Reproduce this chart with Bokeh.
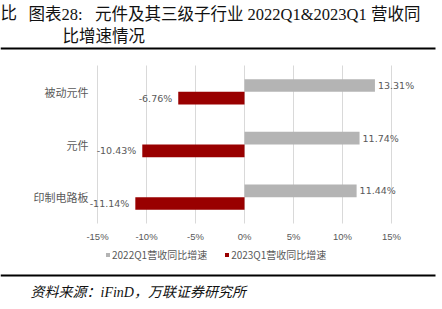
from bokeh.plotting import figure
from bokeh.models import (ColumnDataSource, Range1d, FixedTicker,
                          PrintfTickFormatter, Legend, LegendItem)
from bokeh.transform import dodge
from bokeh.core.properties import value
from bokeh.embed import file_html
from bokeh.resources import INLINE

# ---- data ----
categories = ["印制电路板", "元件", "被动元件"]          # bottom -> top
growth_2022q1 = [11.44, 11.74, 13.31]
growth_2023q1 = [-11.14, -10.43, -6.76]
x_ticks = [-15, -10, -5, 0, 5, 10, 15]
series_names = ["2022Q1营收同比增速", "2023Q1营收同比增速"]
title_cut = "比"
title_line1 = "图表28:\u00a0\u00a0\u00a0元件及其三级子行业\u00a02022Q1&2023Q1\u00a0营收同"
title_line2 = "比增速情况"
source_text = "资料来源：iFinD，万联证券研究所"

GRAY = "#b4b4b4"
RED = "#990000"
TXT = "#595959"
CJK = "Noto Sans CJK SC"
SERIF = "Liberation Serif, Noto Sans CJK SC"

W, H = 442, 309
# layout of the plotting band inside the page (pixels)
BAND_L, BAND_R, BAND_T, BAND_B = 97, 391, 65, 223
PX = (BAND_R - BAND_L) / (x_ticks[-1] - x_ticks[0])
n = len(categories)
UY = (BAND_B - BAND_T) / n
x0 = x_ticks[0] - BAND_L / PX
x1 = x_ticks[-1] + (W - BAND_R) / PX
y0 = -0.5 - (H - BAND_B) / UY
y1 = n - 0.5 + BAND_T / UY

idx = list(range(n))
src = ColumnDataSource(dict(i=idx, cat=categories, a=growth_2022q1, b=growth_2023q1,
                            la=[f"{v:.2f}%" for v in growth_2022q1],
                            lb=[f"{v:.2f}%" for v in growth_2023q1]))

p = figure(width=W, height=H, x_range=Range1d(x0, x1), y_range=Range1d(y0, y1),
           output_backend="svg", toolbar_location=None, min_border=0)
p.extra_x_ranges = {"px": Range1d(0, W)}
p.extra_y_ranges = {"px": Range1d(H, 0)}
p.outline_line_color = None
p.yaxis.visible = False
p.grid.visible = False

# vertical grid lines at the ticks, spanning the category band
p.segment(x0=x_ticks, x1=x_ticks, y0=[-0.5] * len(x_ticks), y1=[n - 0.5] * len(x_ticks),
          line_color="#d9d9d9", line_width=1)

r1 = p.hbar(y=dodge("i", 0.12), right="a", left=0, height=0.24,
            source=src, fill_color=GRAY, line_color=None)
r2 = p.hbar(y=dodge("i", -0.12), right="b", left=0, height=0.24,
            source=src, fill_color=RED, line_color=None)

# value labels
p.text(x="a", y=dodge("i", 0.12), text="la", source=src,
       x_offset=3, text_align="left", text_baseline="middle",
       text_font=value("DejaVu Sans"), text_font_size="9.5px", text_color=TXT)
p.text(x="b", y=dodge("i", -0.12), text="lb", source=src,
       x_offset=-6, text_align="right", text_baseline="middle",
       text_font=value("DejaVu Sans"), text_font_size="9.5px", text_color=TXT)

# category labels, left of the first gridline
p.text(x=[x_ticks[0]] * n, y=idx, text=categories,
       x_offset=-9, text_align="right", text_baseline="middle",
       text_font=value(CJK), text_font_size="11px", text_color=TXT)

# x axis drawn at the bottom of the band
xa = p.xaxis[0]
xa.y_range_name = "px"
xa.fixed_location = BAND_B
xa.ticker = FixedTicker(ticks=x_ticks)
xa.formatter = PrintfTickFormatter(format="%d%%")
xa.axis_line_color = None
xa.major_tick_line_color = None
xa.minor_tick_line_color = None
xa.major_tick_in = 0
xa.major_tick_out = 0
xa.minor_tick_in = 0
xa.minor_tick_out = 0
xa.major_label_standoff = 7
xa.major_label_text_font = "Liberation Sans"
xa.major_label_text_font_size = "9.5px"
xa.major_label_text_color = TXT

legend = Legend(items=[LegendItem(label=series_names[0], renderers=[r1]),
                       LegendItem(label=series_names[1], renderers=[r2])],
                orientation="horizontal", location=(105, H - 262), padding=0, margin=0,
                glyph_width=5, glyph_height=5, label_height=10, label_standoff=2,
                spacing=17, border_line_color=None, background_fill_alpha=0,
                label_text_font=CJK, label_text_font_size="10px", label_text_color=TXT)
p.add_layout(legend)

# page decorations: title, rules, source (page pixel coordinates)
p.text(x=[0, 28, 62], y=[13, 14, 35.5], text=[title_cut, title_line1, title_line2],
       x_range_name="px", y_range_name="px", text_align="left", text_baseline="middle",
       text_font=value(SERIF), text_font_size="16.5px", text_color="#111111")
p.segment(x0=[0, 0], x1=[435, 435], y0=[48, 275], y1=[48, 275],
          x_range_name="px", y_range_name="px", line_color="#000000", line_width=2.2)
p.text(x=[30], y=[292], text=[source_text], x_range_name="px", y_range_name="px",
       text_align="left", text_baseline="middle", text_font=value(SERIF),
       text_font_style="italic", text_font_size="14px", text_color="#111111")

open("out.html", "w").write(file_html(p, INLINE))
